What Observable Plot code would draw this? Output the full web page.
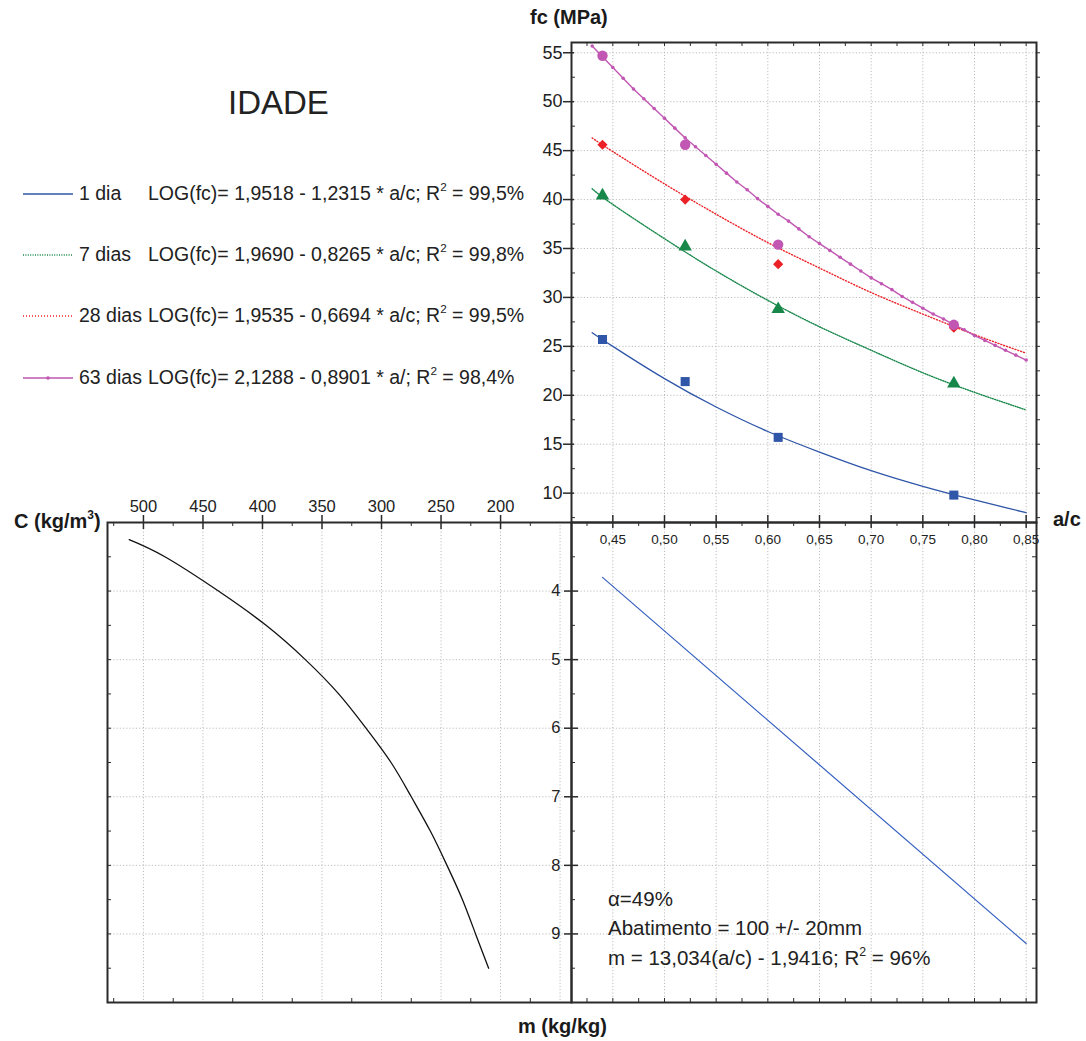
<!DOCTYPE html>
<html><head><meta charset="utf-8">
<script src="https://cdn.jsdelivr.net/npm/d3@7"></script>
<script src="https://cdn.jsdelivr.net/npm/@observablehq/plot@0.6"></script>
<style>
body{margin:0;background:#fff;}
#wrap{position:relative;width:1086px;height:1041px;font-family:"Liberation Sans",Arial,Helvetica,sans-serif;color:#222;overflow:hidden;}
.t{position:absolute;white-space:nowrap;line-height:1;}
.b{font-weight:bold;color:#1a1a1a;}
.sup{font-size:0.6em;position:relative;top:-0.75em;}
</style></head><body><div id="wrap"></div>
<script>
// ---------------- data ----------------
const ageLabels = ["1 dia", "7 dias", "28 dias", "63 dias"];
const ageEquations = [
  "LOG(fc)= 1,9518 - 1,2315 * a/c; R",
  "LOG(fc)= 1,9690 - 0,8265 * a/c; R",
  "LOG(fc)= 1,9535 - 0,6694 * a/c; R",
  "LOG(fc)= 2,1288 - 0,8901 * a/; R"
];
const ageR2 = [" = 99,5%", " = 99,8%", " = 99,5%", " = 98,4%"];
const ageColors = ["#2f56a8", "#17884a", "#ec2027", "#c157b3"];
const ageSymbols = ["square", "triangle", "diamond2", "circle"];
const ageDash = [null, "1,1.4", "1,2", null];

// observed points (a/c , fc MPa)
const acObs = [0.44, 0.52, 0.61, 0.78];
const fcObs1 = [25.7, 21.4, 15.7, 9.8];
const fcObs7 = [40.4, 35.2, 28.8, 21.2];
const fcObs28 = [45.6, 40.0, 33.4, 26.9];
const fcObs63 = [54.7, 45.6, 35.4, 27.2];

// fitted curves
const acFit = [0.43, 0.45, 0.50, 0.55, 0.60, 0.65, 0.70, 0.75, 0.80, 0.85];
const fcFit1 = [26.4, 25.0, 21.7, 18.8, 16.3, 14.2, 12.3, 10.7, 9.3, 8.0];
const fcFit7 = [41.1, 39.5, 36.0, 32.7, 29.7, 27.0, 24.6, 22.3, 20.3, 18.5];
const fcFit28 = [46.3, 44.9, 41.6, 38.5, 35.6, 33.0, 30.5, 28.3, 26.2, 24.3];
const acFit63 = [0.43,0.44,0.45,0.46,0.47,0.48,0.49,0.50,0.51,0.52,0.53,0.54,0.55,0.56,0.57,0.58,0.59,0.60,0.61,0.62,0.63,0.64,0.65,0.66,0.67,0.68,0.69,0.70,0.71,0.72,0.73,0.74,0.75,0.76,0.77,0.78,0.79,0.80,0.81,0.82,0.83,0.84,0.85];
const fcFit63 = [55.7,54.6,53.5,52.4,51.3,50.3,49.3,48.3,47.3,46.3,45.4,44.5,43.6,42.7,41.8,41.0,40.1,39.3,38.5,37.8,37.0,36.2,35.5,34.8,34.1,33.4,32.7,32.0,31.4,30.8,30.1,29.5,28.9,28.3,27.8,27.2,26.7,26.1,25.6,25.1,24.6,24.1,23.6];

// m vs a/c line
const acLine = [0.44, 0.85];
const mLine = [3.80, 9.14];

// C vs m curve
const mCurve = [3.25, 3.5, 4.0, 4.5, 5.0, 5.5, 6.0, 6.5, 7.0, 7.5, 8.0, 8.5, 9.0, 9.5];
const cCurve = [512, 482, 437, 397, 364, 336, 313, 292, 275, 259, 245, 232, 221, 210];

// axis ticks
const acTicks = [0.45, 0.50, 0.55, 0.60, 0.65, 0.70, 0.75, 0.80, 0.85];
const acMinor = [0.425, 0.475, 0.525, 0.575, 0.625, 0.675, 0.725, 0.775, 0.825];
const fcTicks = [10, 15, 20, 25, 30, 35, 40, 45, 50, 55];
const fcMinor = [7.5, 12.5, 17.5, 22.5, 27.5, 32.5, 37.5, 42.5, 47.5, 52.5];
const mTicks = [4, 5, 6, 7, 8, 9];
const mMinor = [3.5, 4.5, 5.5, 6.5, 7.5, 8.5, 9.5];
const cTicks = [500, 450, 400, 350, 300, 250, 200];
const cGrid = [500, 450, 400, 350, 300, 250, 200, 150];
const cMinor = [525, 475, 425, 375, 325, 275, 225, 175];

const annotLines = ["α=49%", "Abatimento = 100 +/- 20mm", "m = 13,034(a/c) - 1,9416; R"];
const annotR2 = " = 96%";

// ---------------- layout ----------------
const W = 1086, H = 1041;
const xL = 107, xMid = 571, xR = 1036;
const yT = 42, yMid = 522, yB = 1002;
const FONT = '"Liberation Sans", Arial, Helvetica, sans-serif';
const gridStyle = {stroke: "#bdbdbd", strokeWidth: 1, strokeDasharray: "1.2,2"};
const tk = {stroke: "#2b2b2b", strokeWidth: 1.5};
const tkm = {stroke: "#2b2b2b", strokeWidth: 1};
const frameStyle = {stroke: "#2b2b2b", strokeWidth: 2};
const comma = d => d.toFixed(2).replace(".", ",");
const svgStyle = {background: "transparent", overflow: "visible", fontFamily: FONT, position: "absolute", left: "0px", top: "0px"};

const zip = (xs, ys) => xs.map((x, i) => ({x, y: ys[i]}));
const fits = [zip(acFit, fcFit1), zip(acFit, fcFit7), zip(acFit, fcFit28), zip(acFit63, fcFit63)];
const obs = [zip(acObs, fcObs1), zip(acObs, fcObs7), zip(acObs, fcObs28), zip(acObs, fcObs63)];
const obsR = [5.1, 5.0, 4.6, 5.2];

const wrap = document.getElementById("wrap");

// ---- Panel A : fc vs a/c ----
const fwA = xR - xMid, fhA = yMid - yT;
const panelA = Plot.plot({
  width: W, height: H,
  marginLeft: xMid, marginRight: W - xR, marginTop: yT, marginBottom: H - yMid,
  x: {domain: [0.41, 0.86], axis: null},
  y: {domain: [7.0, 56.05], axis: null},
  style: svgStyle,
  marks: [
    Plot.ruleX(acTicks, {x: d => d, ...gridStyle}),
    Plot.ruleY(fcTicks, {y: d => d, ...gridStyle}),
    ...fits.map((f, i) => Plot.line(f, {
      x: "x", y: "y", stroke: ageColors[i], strokeWidth: [1.3, 1.4, 1.4, 1.4][i],
      strokeDasharray: ageDash[i], curve: i === 3 ? "linear" : "natural"
    })),
    Plot.dot(fits[3], {x: "x", y: "y", r: 1.8, fill: ageColors[3]}),
    ...obs.map((o, i) => Plot.dot(o, {x: "x", y: "y", symbol: ageSymbols[i], fill: ageColors[i], r: obsR[i]})),
    Plot.frame(frameStyle),
    Plot.tickY(fcTicks, {y: d => d, insetRight: fwA - 11, dx: -8, ...tk}),
    Plot.tickY(fcMinor, {y: d => d, insetRight: fwA - 4, ...tkm}),
    Plot.tickY(fcTicks.concat(fcMinor), {y: d => d, insetLeft: fwA - 4, dx: 4, ...tkm}),
    Plot.tickX(acTicks.concat(acMinor), {x: d => d, insetBottom: fhA - 4, ...tkm}),
    Plot.tickX(acTicks, {x: d => d, insetTop: fhA - 13, dy: 6, ...tk}),
    Plot.tickX(acMinor, {x: d => d, insetTop: fhA - 4, dy: 4, ...tkm}),
    Plot.text(fcTicks, {y: d => d, frameAnchor: "left", dx: -9, textAnchor: "end", text: d => String(d), fontSize: 18, fill: "#222"}),
    Plot.text(acTicks, {x: d => d, frameAnchor: "bottom", dy: 12, lineAnchor: "top", text: comma, fontSize: 13.5, fill: "#222"})
  ]
});

// ---- Panel B : m vs a/c ----
const fwB = xR - xMid, fhB = yB - yMid;
const panelB = Plot.plot({
  width: W, height: H,
  marginLeft: xMid, marginRight: W - xR, marginTop: yMid, marginBottom: H - yB,
  x: {domain: [0.41, 0.86], axis: null},
  y: {domain: [10, 3], axis: null},
  style: svgStyle,
  marks: [
    Plot.ruleX(acTicks, {x: d => d, ...gridStyle}),
    Plot.ruleY(mTicks, {y: d => d, ...gridStyle}),
    Plot.line(zip(acLine, mLine), {x: "x", y: "y", stroke: "#3560c0", strokeWidth: 1.2}),
    Plot.frame(frameStyle),
    Plot.tickY(mTicks, {y: d => d, insetRight: fwB - 14, dx: -7, ...tk}),
    Plot.tickY(mMinor, {y: d => d, insetRight: fwB - 4, ...tkm}),
    Plot.tickY(mTicks.concat(mMinor), {y: d => d, insetLeft: fwB - 4, ...tkm}),
    Plot.tickX(acTicks.concat(acMinor), {x: d => d, insetTop: fhB - 4, ...tkm}),
    Plot.text(mTicks, {y: d => d, frameAnchor: "left", dx: -11, textAnchor: "end", text: d => String(d), fontSize: 16.5, fill: "#222"})
  ]
});

// ---- Panel C : C vs m ----
const fwC = xMid - xL, fhC = yB - yMid;
const panelC = Plot.plot({
  width: W, height: H,
  marginLeft: xL, marginRight: W - xMid, marginTop: yMid, marginBottom: H - yB,
  x: {domain: [530.2, 140.4], axis: null},
  y: {domain: [10, 3], axis: null},
  style: svgStyle,
  marks: [
    Plot.ruleX(cGrid, {x: d => d, ...gridStyle}),
    Plot.ruleY(mTicks, {y: d => d, ...gridStyle}),
    Plot.line(zip(cCurve, mCurve), {x: "x", y: "y", stroke: "#111", strokeWidth: 1.3, curve: "natural"}),
    Plot.frame(frameStyle),
    Plot.tickX(cTicks, {x: d => d, insetBottom: fhC - 14, dy: -7, ...tk}),
    Plot.tickX(cMinor, {x: d => d, insetBottom: fhC - 4, ...tkm}),
    Plot.tickX(cMinor, {x: d => d, insetTop: fhC - 4, ...tkm}),
    Plot.tickY(mTicks.concat(mMinor), {y: d => d, insetRight: fwC - 4, ...tkm}),
    Plot.text(cTicks, {x: d => d, frameAnchor: "top", dy: -11, lineAnchor: "bottom", text: d => String(d), fontSize: 16.5, fill: "#222"})
  ]
});

wrap.append(panelC, panelB, panelA);

// ---------------- text ----------------
function addText(html, left, cy, size, cls = "") {
  const d = document.createElement("div");
  d.className = "t " + cls;
  d.style.left = left + "px";
  d.style.top = (cy - 0.5 * size) + "px";
  d.style.fontSize = size + "px";
  d.innerHTML = html;
  wrap.appendChild(d);
  return d;
}
addText("fc (MPa)", 530, 17, 20, "b");
addText("a/c", 1053, 519, 20, "b");
addText('C (kg/m<span class="sup">3</span>)', 14, 521, 20, "b");
addText("m (kg/kg)", 518, 1026, 20, "b");
addText("IDADE", 228, 102, 33);

const rowY = [194, 255, 316, 378];
ageLabels.forEach((lab, i) => {
  const cy = rowY[i];
  const s = document.createElementNS("http://www.w3.org/2000/svg", "svg");
  s.setAttribute("width", 52); s.setAttribute("height", 8);
  s.style.position = "absolute"; s.style.left = "22px"; s.style.top = (cy - 4) + "px";
  const ln = document.createElementNS("http://www.w3.org/2000/svg", "line");
  ln.setAttribute("x1", 1); ln.setAttribute("x2", 51); ln.setAttribute("y1", 4); ln.setAttribute("y2", 4);
  ln.setAttribute("stroke", ageColors[i]); ln.setAttribute("stroke-width", 1.3);
  if (ageDash[i]) ln.setAttribute("stroke-dasharray", ageDash[i]);
  s.appendChild(ln);
  if (i === 3) {
    const c = document.createElementNS("http://www.w3.org/2000/svg", "circle");
    c.setAttribute("cx", 26); c.setAttribute("cy", 4); c.setAttribute("r", 1.8); c.setAttribute("fill", ageColors[i]);
    s.appendChild(c);
  }
  wrap.appendChild(s);
  addText(lab, 79, cy, 19.5);
  addText(ageEquations[i] + '<span class="sup">2</span>' + ageR2[i], 148, cy, 19.5);
});

const annotY = [899, 928, 958];
annotLines.forEach((txt, i) => {
  addText(i === 2 ? txt + '<span class="sup">2</span>' + annotR2 : txt, 608, annotY[i], 20.5);
});
</script></body></html>
